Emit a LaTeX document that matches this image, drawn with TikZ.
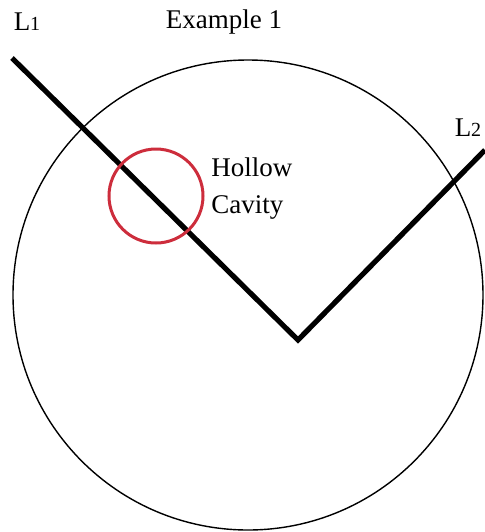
\documentclass[tikz,border=0pt]{standalone}
\usepackage{fontspec}
\setmainfont{Liberation Serif}
\usetikzlibrary{positioning}
\definecolor{cavityred}{RGB}{205,45,60}

\begin{document}
\begin{tikzpicture}[x=0.5pt, y=-0.5pt,
label/.style={inner sep=0pt, font=\fontsize{13.5}{18.5}\selectfont},
wire/.style={line width=2.6pt},
hole/.style={draw=cavityred, line width=1.5pt}
]
\useasboundingbox (0,0) rectangle (485,532);
\draw[line width=0.7pt] (248,295) circle[radius=117.5pt];
\coordinate (start) at (12,58);
\coordinate (vertex) at (298,340);
\coordinate (end) at (485,150);
\draw[wire] (start) -- (vertex) -- (end);
\node[hole, circle, minimum size=47pt, inner sep=0pt] (cavity) at (156,196) {};
\node[label, anchor=west, align=left] (cavitytext) at (211,189) {Hollow\\Cavity};
\node[label] (title) at (224,22) {Example 1};
\node[label] (lone) at (27,22) {L{\fontsize{10}{10}\selectfont 1}};
\node[label] (ltwo) at (468,128) {L{\fontsize{10}{10}\selectfont 2}};
\end{tikzpicture}
\end{document}
